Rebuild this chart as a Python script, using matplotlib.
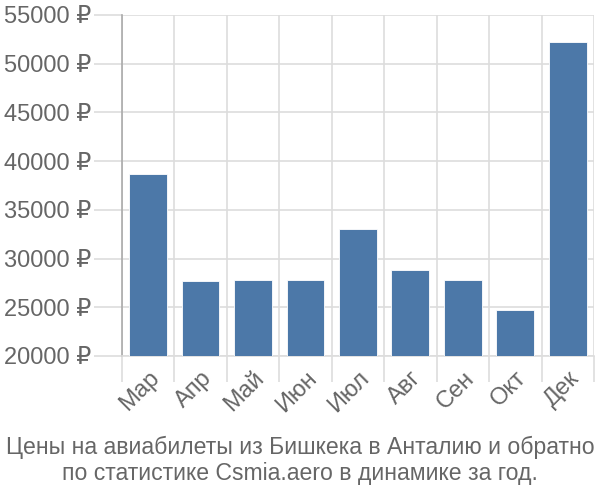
import numpy as np
import matplotlib.pyplot as plt

plt.rcParams['font.family'] = ['Liberation Sans', 'DejaVu Sans']

months = ['Мар', 'Апр', 'Май', 'Июн', 'Июл', 'Авг', 'Сен', 'Окт', 'Дек']
prices = [38700, 27700, 27800, 27800, 33000, 28800, 27800, 24700, 52200]
yticks = [20000, 25000, 30000, 35000, 40000, 45000, 50000, 55000]

fig = plt.figure(figsize=(6, 5), dpi=100)
ax = fig.add_axes([0.203, 0.288, 0.787, 0.682])

x = np.arange(len(months))
ax.bar(x, prices, width=0.72, color='#4c78a8', edgecolor='white', linewidth=0.6, zorder=3)

ax.set_xlim(-0.5, len(months) - 0.5)
ax.set_ylim(20000, 55000)

# labels at bar centres, grid lines between bars
ax.set_xticks(x)
ax.set_xticklabels(months, rotation=45, ha='right', rotation_mode='anchor')
ax.set_xticks(np.arange(len(months) + 1) - 0.5, minor=True)
ax.tick_params(axis='x', which='major', length=0, labelsize=17, labelcolor='#666666', pad=8)
ax.tick_params(axis='x', which='minor', length=19, color='#dddddd', width=1.2)
ax.grid(axis='x', which='minor', color='#dddddd', linewidth=1.2, zorder=0)

ax.set_yticks(yticks)
ax.set_yticklabels([f'{v} ₽' for v in yticks])
ax.tick_params(axis='y', length=20, color='#dddddd', width=1.2, labelsize=17, labelcolor='#666666', pad=2)
ax.grid(axis='y', color='#dddddd', linewidth=1.2, zorder=0)

for s in ['top', 'right']:
    ax.spines[s].set_visible(False)
ax.spines['left'].set_color('#aaaaaa')
ax.spines['left'].set_linewidth(1.2)
ax.spines['bottom'].set_color('#dddddd')
ax.spines['bottom'].set_linewidth(1.2)

fig.text(0.5, 0.079, 'Цены на авиабилеты из Бишкека в Анталию и обратно\nпо статистике Csmia.aero в динамике за год.',
         ha='center', va='center', fontsize=16.6, color='#666666', linespacing=1.2)

fig.savefig('out.png', dpi=100)
